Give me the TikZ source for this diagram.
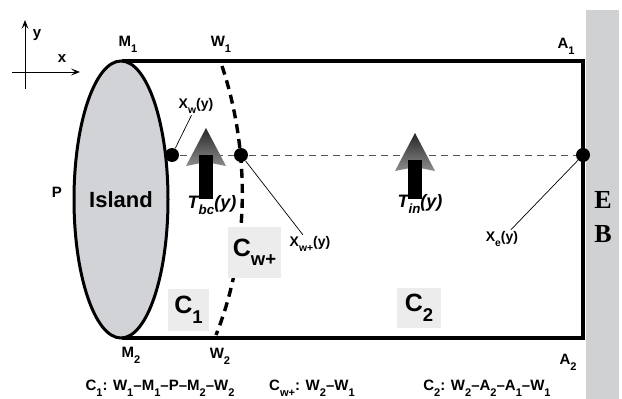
\documentclass[tikz,border=0pt]{standalone}
\usepackage{fontspec}
\setmainfont{Liberation Sans}
\newfontfamily\ebfont{Liberation Serif}
\usetikzlibrary{arrows.meta, shapes.geometric}
\definecolor{cisland}{HTML}{D2D3D6}
\definecolor{cbox}{HTML}{ECECEC}
\definecolor{cwall}{HTML}{D0D1D3}
\definecolor{cmid}{HTML}{555555}
\newcommand{\lsub}[1]{\raisebox{-0.38em}{\scalebox{0.74}{#1}}}
\tikzset{
  every picture/.style={font=\bfseries, line width=1pt},
  bound/.style={draw=black, line width=3.2pt, line join=miter},
  wallcurve/.style={line width=3.4pt, dash pattern=on 9pt off 6pt},
  midline/.style={draw=cmid, line width=0.9pt, dash pattern=on 7pt off 5pt},
  leader/.style={line width=0.7pt},
  dot/.style={circle, fill=black, inner sep=0pt, minimum size=14pt},
  lbl/.style={font=\fontsize{15}{17}\selectfont\bfseries, inner sep=1pt},
  xlbl/.style={font=\fontsize{14}{16}\selectfont\bfseries, inner sep=1pt},
  tlbl/.style={font=\fontsize{18}{20}\selectfont\bfseries\itshape, inner sep=1pt},
  regbox/.style={fill=cbox, inner sep=0pt, font=\fontsize{25}{27}\selectfont\bfseries},
  eblbl/.style={font=\fontsize{26}{28}\selectfont\ebfont\bfseries, inner sep=0pt},
  axis/.style={-{Stealth[length=9pt, width=7pt, inset=4pt]}, line width=1pt},
  headshade/.style={top color=black!85, bottom color=black!45},
}
\begin{document}
\begin{tikzpicture}[x=1pt, y=-1pt]
  \useasboundingbox (0,0) rectangle (622,399);
  % wall at the right
  \fill[cwall] (586,10) rectangle (619,399);
  \node[eblbl] (elbl) at (603,200) {E};
  \node[eblbl] (blbl) at (603,234) {B};

  % axes
  \coordinate (xstart) at (12,72);  \coordinate (xend) at (80,72);
  \coordinate (ystart) at (25,89);  \coordinate (yend) at (25,20);
  \draw[axis] (xstart) -- (xend);
  \draw[axis] (ystart) -- (yend);
  \node[lbl] (xax) at (62,59) {x};
  \node[lbl] (yax) at (37,35) {y};

  % domain boundary
  \coordinate (m1) at (122,61); \coordinate (a1) at (583,61);
  \coordinate (a2) at (583,338); \coordinate (m2) at (122,338);
  \draw[bound] (m1) -- (a1) -- (a2) -- (m2);

  % island
  \node[ellipse, draw, line width=3pt, fill=cisland, minimum width=94pt, minimum height=277pt,
    inner sep=0pt, font=\fontsize{22}{24}\selectfont\bfseries] (island) at (121,199.5) {\raisebox{-3pt}{Island}};

  % wave boundary W1 - W2
  \coordinate (w1) at (222,66); \coordinate (w2) at (216,335);
  \draw[wallcurve] (w1) .. controls (250,150) and (250,250) .. (w2);

  % points on the section line
  \node[dot] (xw) at (172,155) {};
  \node[dot] (xwp) at (241,155) {};
  \node[dot] (xe) at (583,155) {};
  \draw[midline] (xw) -- (xwp);
  \draw[midline] (xwp) -- (xe);

  % regions
  \node[regbox, minimum width=41pt, minimum height=42pt] (c1) at (188.5,310) {C\lsub{1}};
  \node[regbox, minimum width=53pt, minimum height=51pt] (cwp) at (254.5,252.5) {C\lsub{w+}};
  \node[regbox, minimum width=44pt, minimum height=40pt] (c2) at (419,308) {C\lsub{2}};

  % transport arrows
  \foreach \ax/\ty in {206/128, 415/133} {
    \shade[headshade] (\ax,\ty) -- ++(20,38) -- ++(-20,-4) -- ++(-20,4) -- cycle;
    \fill (\ax-7,\ty+27) rectangle (\ax+7,199);
  }
  \node[tlbl] (tbc) at (212,205) {T\lsub{bc}(y)};
  \node[tlbl] (tin) at (420,204) {T\lsub{in}(y)};

  % labels
  \node[lbl] (m1lbl) at (128,44) {M\lsub{1}};
  \node[lbl] (w1lbl) at (221,44) {W\lsub{1}};
  \node[lbl] (a1lbl) at (566,46) {A\lsub{1}};
  \node[lbl] (m2lbl) at (131,355) {M\lsub{2}};
  \node[lbl] (w2lbl) at (220,356) {W\lsub{2}};
  \node[lbl] (a2lbl) at (568,362) {A\lsub{2}};
  \node[lbl] (plbl) at (57,192) {P};

  \node[xlbl] (xwlbl) at (196,106) {X\lsub{w}(y)};
  \node[xlbl] (xwplbl) at (310,244) {X\lsub{w+}(y)};
  \node[xlbl] (xelbl) at (502,239) {X\lsub{e}(y)};
  \draw[leader] (xwlbl) -- (xw);
  \draw[leader] (xwplbl) -- (xwp);
  \draw[leader] (xelbl) -- (xe);

  % region definitions
  \node[lbl] (c1def) at (160,388) {C\lsub{1}: W\lsub{1}--M\lsub{1}--P--M\lsub{2}--W\lsub{2}};
  \node[lbl] (cwpdef) at (312,388) {C\lsub{w+}: W\lsub{2}--W\lsub{1}};
  \node[lbl] (c2def) at (487,388) {C\lsub{2}: W\lsub{2}--A\lsub{2}--A\lsub{1}--W\lsub{1}};
\end{tikzpicture}
\end{document}
